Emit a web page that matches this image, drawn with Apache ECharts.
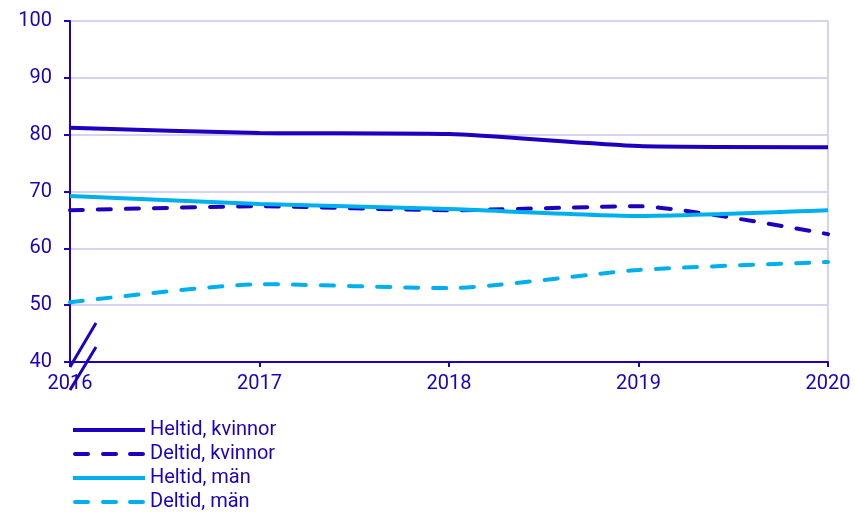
<!DOCTYPE html>
<html>
<head>
<meta charset="utf-8">
<script src="https://cdn.jsdelivr.net/npm/echarts@6/dist/echarts.min.js"></script>
<style>
html,body{margin:0;padding:0;background:#fff;}
#chart{width:855px;height:512px;}
</style>
</head>
<body>
<div id="chart"></div>
<script>
const years = ['2016', '2017', '2018', '2019', '2020'];
const heltidKvinnor = [81.2, 80.3, 80.1, 78.0, 77.8];
const deltidKvinnor = [66.7, 67.4, 66.7, 67.4, 62.5];
const heltidMan = [69.2, 67.8, 66.9, 65.7, 66.7];
const deltidMan = [50.5, 53.7, 53.0, 56.2, 57.6];
const seriesNames = ['Heltid, kvinnor', 'Deltid, kvinnor', 'Heltid, män', 'Deltid, män'];

const dark = '#1e00be';
const light = '#00b0ec';
const gridCol = '#d4d4f2';
const font = 'Roboto';

const solidIcon = 'path://M0,0H72V4H0Z';
const dashIcon = 'path://M2,0H15A2,2 0 0 1 15,4H2A2,2 0 0 1 2,0Z M30,0H43A2,2 0 0 1 43,4H30A2,2 0 0 1 30,0Z M57,0H70A2,2 0 0 1 70,4H57A2,2 0 0 1 57,0Z';

const chart = echarts.init(document.getElementById('chart'), null, {renderer: 'canvas'});

function mk(name, data, color, dashed) {
  return {
    name: name, type: 'line', data: data, symbol: 'none', smooth: 0.2,
    lineStyle: {color: color, width: 4, type: dashed ? [13, 15] : 'solid', cap: dashed ? 'round' : 'butt'},
    itemStyle: {color: color},
    z: dashed ? 3 : 4
  };
}

const option = {
  animation: false,
  backgroundColor: '#fff',
  grid: {left: 70, right: 27, top: 21, bottom: 150, containLabel: false},
  xAxis: {
    type: 'category', data: years, boundaryGap: false,
    axisLine: {show: true, lineStyle: {color: dark, width: 2}},
    axisTick: {show: true, length: 5, alignWithLabel: true, lineStyle: {color: dark, width: 2}},
    axisLabel: {color: dark, fontFamily: font, fontSize: 20, margin: 12},
    splitLine: {show: false}
  },
  yAxis: [{
    type: 'value', min: 40, max: 100, interval: 10,
    axisLine: {show: true, lineStyle: {color: dark, width: 2}},
    axisTick: {show: true, length: 6, lineStyle: {color: dark, width: 2}},
    axisLabel: {color: dark, fontFamily: font, fontSize: 20, margin: 18},
    splitLine: {show: true, lineStyle: {color: gridCol, width: 2}}
  }, {
    type: 'value', min: 40, max: 100, interval: 10, position: 'right',
    axisLine: {show: true, lineStyle: {color: gridCol, width: 2}},
    axisTick: {show: false}, axisLabel: {show: false}, splitLine: {show: false}
  }],
  legend: {
    orient: 'vertical', left: 73, top: 418, height: 110, padding: 0,
    itemWidth: 72, itemHeight: 4, itemGap: 0,
    textStyle: {color: dark, fontFamily: font, fontSize: 20, lineHeight: 24, padding: [0, 0, 0, 0]},
    data: [
      {name: seriesNames[0], icon: solidIcon},
      {name: seriesNames[1], icon: dashIcon},
      {name: seriesNames[2], icon: solidIcon},
      {name: seriesNames[3], icon: dashIcon}
    ]
  },
  series: [
    mk(seriesNames[0], heltidKvinnor, dark, false),
    mk(seriesNames[1], deltidKvinnor, dark, true),
    mk(seriesNames[2], heltidMan, light, false),
    mk(seriesNames[3], deltidMan, light, true)
  ]
};
chart.setOption(option);

// axis break marks at the origin
const o = chart.convertToPixel({gridIndex: 0}, ['2016', 40]);
chart.setOption({
  graphic: [
    {type: 'line', shape: {x1: o[0], y1: o[1] + 5, x2: o[0] + 26, y2: o[1] - 39}, style: {stroke: dark, lineWidth: 3}, z: 100},
    {type: 'line', shape: {x1: o[0], y1: o[1] + 28, x2: o[0] + 26, y2: o[1] - 15}, style: {stroke: dark, lineWidth: 3}, z: 100}
  ]
});
</script>
</body>
</html>
